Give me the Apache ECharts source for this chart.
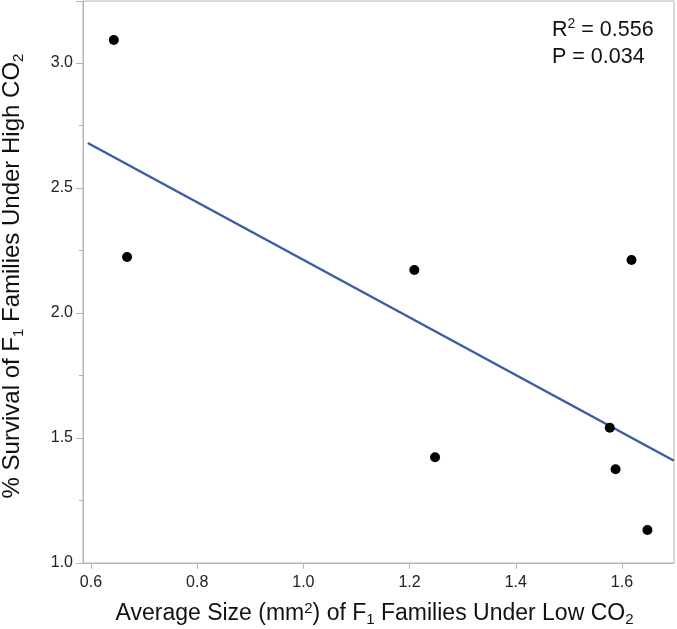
<!DOCTYPE html>
<html>
<head>
<meta charset="utf-8">
<script src="https://cdn.jsdelivr.net/npm/echarts@6/dist/echarts.min.js"></script>
<style>
html,body{margin:0;padding:0;background:#fff;}
#chart{width:677px;height:629px;}
</style>
</head>
<body>
<div id="chart"></div>
<script>
// Data
const sizeX = [0.643, 0.668, 1.209, 1.248, 1.618, 1.577, 1.588, 1.648];
const survivalY = [3.092, 2.224, 2.172, 1.423, 2.212, 1.541, 1.375, 1.132];
const fitX = [0.594, 1.698];
const fitY = [2.680, 1.409];
const xTickValues = [0.6, 0.8, 1.0, 1.2, 1.4, 1.6];
const rSquared = '0.556';
const pValue = '0.034';

const points = sizeX.map((x, i) => [x, survivalY[i]]);
const fitLine = fitX.map((x, i) => [x, fitY[i]]);

const FONT = 'Liberation Sans, Arial, Helvetica, sans-serif';
const axisGray = '#b4b4b4';

const chart = echarts.init(document.getElementById('chart'), null, {renderer: 'canvas'});
chart.setOption({
  animation: false,
  backgroundColor: '#fff',
  grid: {left: 83, right: 3, top: 1, bottom: 66, show: true, borderColor: axisGray, borderWidth: 1,
         containLabel: false, outerBoundsMode: 'none'},
  xAxis: {
    type: 'value',
    min: 0.585, max: 1.698,
    splitLine: {show: false},
    axisLine: {show: true, lineStyle: {color: axisGray, width: 1}},
    axisTick: {show: true, length: 6, lineStyle: {color: axisGray}, customValues: xTickValues},
    axisLabel: {
      customValues: xTickValues,
      margin: 12, fontSize: 16, color: '#222', fontFamily: FONT,
      formatter: v => v.toFixed(1)
    },
    name: 'Average Size (mm{sup|2}) of F{sub|1} Families Under Low CO{sub|2}',
    nameLocation: 'middle',
    nameGap: 38,
    nameTextStyle: {
      fontSize: 23, color: '#111', fontFamily: FONT, lineHeight: 26,
      padding: [0, 8, 0, 0],
      rich: {
        sub: {fontSize: 15, lineHeight: 15, verticalAlign: 'bottom', color: '#111', fontFamily: FONT},
        sup: {fontSize: 15, lineHeight: 15, verticalAlign: 'top', color: '#111', fontFamily: FONT}
      }
    }
  },
  yAxis: {
    type: 'value',
    min: 1.0, max: 3.248, interval: 0.5,
    splitLine: {show: false},
    axisLine: {show: true, lineStyle: {color: axisGray, width: 1}},
    axisTick: {show: true, length: 7, lineStyle: {color: axisGray}},
    minorTick: {show: true, splitNumber: 2, length: 4, lineStyle: {color: axisGray}},
    minorSplitLine: {show: false},
    axisLabel: {
      margin: 10, fontSize: 16, color: '#222', fontFamily: FONT,
      showMaxLabel: false,
      formatter: v => v.toFixed(1)
    },
    name: '% Survival of F{sub|1} Families Under High CO{sub|2}',
    nameLocation: 'middle',
    nameRotate: 90,
    nameGap: 57,
    nameTextStyle: {
      fontSize: 24, color: '#111', fontFamily: FONT, lineHeight: 28,
      padding: [0, 0, 0, 12],
      rich: {
        sub: {fontSize: 15, lineHeight: 15, verticalAlign: 'bottom', color: '#111', fontFamily: FONT}
      }
    }
  },
  graphic: [{
    type: 'text',
    left: 552, top: 17,
    style: {
      text: 'R{sup|2} = ' + rSquared + '\nP = ' + pValue,
      fontSize: 21.5, lineHeight: 27, fill: '#111', fontFamily: FONT,
      rich: {
        sup: {fontSize: 14, lineHeight: 14, verticalAlign: 'top', fill: '#111', fontFamily: FONT}
      }
    }
  }],
  series: [
    {
      type: 'line',
      data: fitLine,
      showSymbol: false,
      symbol: 'none',
      lineStyle: {color: '#3b5ca8', width: 2.5},
      z: 2
    },
    {
      type: 'scatter',
      data: points,
      symbol: 'circle',
      symbolSize: 10,
      itemStyle: {color: '#000', opacity: 1},
      z: 3
    }
  ]
});
</script>
</body>
</html>
